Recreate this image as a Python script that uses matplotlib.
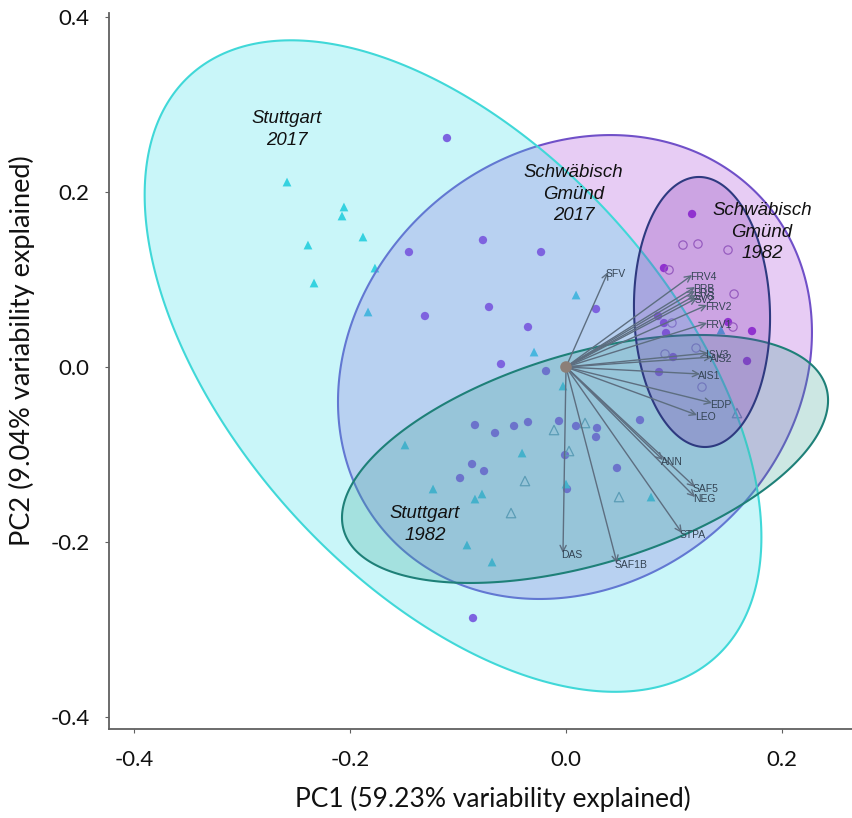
import numpy as np
import matplotlib
matplotlib.use("Agg")
import matplotlib.pyplot as plt

# ---------------- data ----------------
# Stuttgart 2017 (filled triangles)
stu17_x = [-0.2583, -0.2056, -0.2074, -0.1880, -0.2389, -0.1769, -0.2333, -0.1833, 0.0093, -0.0296,
           -0.0028, 0.1435, -0.1491, -0.0407, -0.1231, -0.0778, -0.0843, -0.0917, -0.0685, 0.0000, 0.0787]
stu17_y = [0.2114, 0.1829, 0.1726, 0.1486, 0.1394, 0.1131, 0.0960, 0.0629, 0.0823, 0.0171,
           -0.0217, 0.0423, -0.0891, -0.0983, -0.1394, -0.1451, -0.1509, -0.2034, -0.2229, -0.1337, -0.1486]
# Stuttgart 1982 (open triangles)
stu82_x = [-0.0111, 0.0176, 0.0028, -0.0380, -0.0509, 0.0491, 0.1583]
stu82_y = [-0.0720, -0.0640, -0.0960, -0.1303, -0.1669, -0.1486, -0.0526]
# Schwäbisch Gmünd 2017 (filled circles)
sg17_x = [-0.1102, -0.0769, -0.1454, -0.0231, -0.0713, -0.1306, -0.0352, -0.0602, -0.0185, 0.0278,
          0.0907, 0.1167, 0.0852, 0.0907, 0.0926, 0.0991, 0.0861, 0.0685, 0.1722, 0.1676, 0.1500,
          -0.0843, -0.0657, -0.0481, -0.0352, -0.0065, 0.0093, 0.0287, 0.0278, -0.0009, -0.0870,
          -0.0759, -0.0981, 0.0009, 0.0472, -0.0861]
sg17_y = [0.2617, 0.1451, 0.1314, 0.1314, 0.0686, 0.0583, 0.0457, 0.0034, -0.0046, 0.0663,
          0.1131, 0.1749, 0.0583, 0.0503, 0.0389, 0.0114, -0.0057, -0.0606, 0.0411, 0.0069, 0.0514,
          -0.0663, -0.0754, -0.0674, -0.0629, -0.0617, -0.0674, -0.0697, -0.0800, -0.1006, -0.1109,
          -0.1189, -0.1269, -0.1394, -0.1154, -0.2869]
# Schwäbisch Gmünd 1982 (open circles)
sg82_x = [0.1083, 0.1222, 0.1500, 0.0954, 0.1556, 0.0981, 0.1546, 0.0917, 0.1204, 0.1259]
sg82_y = [0.1394, 0.1406, 0.1337, 0.1109, 0.0834, 0.0503, 0.0457, 0.0149, 0.0217, -0.0229]

# variable loadings (arrows)
var_names = ["SFV", "FRV4", "PRB", "PRS", "SVG", "SV2", "FRV2", "FRV1", "ISV3", "AIS2", "AIS1",
             "EDP", "LEO", "ANN", "SAF5", "NEG", "STPA", "SAF1B", "DAS"]
var_x = [0.0389, 0.1167, 0.1194, 0.1194, 0.1204, 0.1213, 0.1306, 0.1306, 0.1315, 0.1352, 0.1241,
         0.1352, 0.1213, 0.0898, 0.1194, 0.1194, 0.1074, 0.0472, -0.0028]
var_y = [0.1086, 0.1051, 0.0914, 0.0869, 0.0823, 0.0789, 0.0709, 0.0503, 0.0160, 0.0114, -0.0080,
         -0.0411, -0.0549, -0.1063, -0.1371, -0.1486, -0.1897, -0.2240, -0.2126]

# group ellipses: centre x, centre y, half-extent x, half-extent y, correlation
ell_sg17 = (0.0083, 0.0000, 0.2194, 0.2651, 0.15)
ell_stu17 = (-0.1046, 0.0011, 0.2855, 0.3723, -0.5255)
ell_stu82 = (0.0176, -0.1051, 0.2250, 0.1417, 0.473)
ell_sg82 = (0.1259, 0.0629, 0.0630, 0.1543, -0.044)

group_labels = ["Stuttgart\n2017", "Schwäbisch\nGmünd\n2017", "Schwäbisch\nGmünd\n1982", "Stuttgart\n1982"]
group_label_x = [-0.2583, 0.0069, 0.1815, -0.1306]
group_label_y = [0.2714, 0.1977, 0.1543, -0.1800]

xlabel = "PC1 (59.23% variability explained)"
ylabel = "PC2 (9.04% variability explained)"
xticks = [-0.4, -0.2, 0.0, 0.2]
yticks = [-0.4, -0.2, 0.0, 0.2, 0.4]

# ---------------- plot ----------------
fig = plt.figure(figsize=(8.53, 8.18), dpi=100)
ax = fig.add_axes([0.1278, 0.1088, 0.8722, 0.8753])
ax.set_xlim(-0.4231, 0.2657)
ax.set_ylim(-0.4137, 0.4046)

# points (under the translucent ellipses)
ax.scatter(sg17_x, sg17_y, s=36, marker="o", color="#9434dc", edgecolors="none", zorder=1)
ax.scatter(stu17_x, stu17_y, s=40, marker="^", color="#32cddc", edgecolors="none", zorder=1)
ax.scatter(sg82_x, sg82_y, s=36, marker="o", facecolors="none", edgecolors="#a080c0", linewidths=0.9, zorder=1)
ax.scatter(stu82_x, stu82_y, s=46, marker="^", facecolors="none", edgecolors="#6a9aa6", linewidths=0.9, zorder=1)

def draw_ell(params, face, alpha, edge, z):
    cx, cy, sx, sy, r = params
    t = np.linspace(0, 2 * np.pi, 361)
    ex = cx + sx * np.cos(t)
    ey = cy + sy * (r * np.cos(t) + np.sqrt(1 - r * r) * np.sin(t))
    fc = matplotlib.colors.to_rgba(face, alpha)
    ax.fill(ex, ey, facecolor=fc, edgecolor=edge, linewidth=1.5, zorder=z)

draw_ell(ell_sg17, "#a337d7", 0.25, "#7050c8", 2)
draw_ell(ell_stu17, "#3fe0ec", 0.28, "#40d8d8", 3)
draw_ell(ell_stu82, "#37a393", 0.25, "#1e8078", 4)
draw_ell(ell_sg82, "#7c2db1", 0.25, "#2e3a80", 5)

# arrows
for name, vx, vy in zip(var_names, var_x, var_y):
    ax.annotate("", xy=(vx, vy), xytext=(0, 0),
                arrowprops=dict(arrowstyle="->", color="#5d6e80", lw=1.0,
                                shrinkA=0, shrinkB=0, mutation_scale=11), zorder=6)
    ax.text(vx - 0.002, vy - 0.002, name, fontsize=7.5, color="#344454",
            family="Liberation Sans", ha="left", va="center", zorder=7)
ax.scatter([0], [0], s=70, color="#8c7f78", zorder=8, edgecolors="none")

for lab, lx, ly in zip(group_labels, group_label_x, group_label_y):
    ax.text(lx, ly, lab, fontsize=13.4, style="italic", family="Liberation Sans",
            ha="center", va="center", color="#111111", linespacing=1.38, zorder=9)

for s in ["top", "right"]:
    ax.spines[s].set_visible(False)
for s in ["left", "bottom"]:
    ax.spines[s].set_color("#606060")
    ax.spines[s].set_linewidth(1.3)

ax.set_xticks(xticks)
ax.set_yticks(yticks)
ax.set_xticklabels([f"{v:.1f}" for v in xticks])
ax.set_yticklabels([f"{v:.1f}" for v in yticks])
ax.tick_params(axis="both", length=3, color="#606060", labelsize=16)
ax.tick_params(axis="y", pad=11)
ax.tick_params(axis="x", pad=12)
for lbl in ax.get_xticklabels() + ax.get_yticklabels():
    lbl.set_family("Lato")
    lbl.set_color("#111111")

ax.set_xlabel(xlabel, fontsize=19, family="Lato", color="#111111")
ax.set_ylabel(ylabel, fontsize=19.5, family="Lato", color="#111111")
ax.xaxis.set_label_coords(0.516, -0.080)
ax.yaxis.set_label_coords(-0.100, 0.529)

fig.savefig("out.png", dpi=100)
